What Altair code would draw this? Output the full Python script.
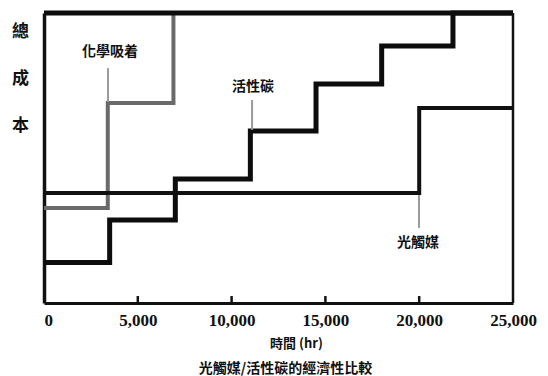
import altair as alt
import pandas as pd

# 活性碳 (activated carbon) step line
ac_x = [0, 3500, 7000, 11000, 14500, 18000, 21800, 25000]
ac_y = [14.0, 28.6, 42.8, 59.3, 75.5, 88.6, 100.0, 100.0]
# 化學吸着 (chemical adsorption) step line
chem_x = [0, 3400, 6900]
chem_y = [32.8, 69.0, 100.0]
# 光觸媒 (photocatalyst) step line
photo_x = [0, 20000, 25000]
photo_y = [37.9, 67.2, 67.2]

tick_values = [0, 5000, 10000, 15000, 20000, 25000]
inner_ticks = [5000, 10000, 15000, 20000]

labels = ["化學吸着", "活性碳", "光觸媒"]
label_x = [3520, 11140, 19940]
label_y = [86.6, 74.5, 20.7]
leader_x = [3410, 11090, 19990]
leader_y1 = [81.0, 70.0, 37.2]
leader_y2 = [69.3, 59.7, 25.9]

CJK = "Noto Sans CJK TC"
SERIF = "Liberation Serif"

xs = alt.Scale(domain=[0, 25000], nice=False, zero=False)
ys = alt.Scale(domain=[0, 100], nice=False, zero=False)

xaxis = alt.Axis(
    values=tick_values, format=",d", ticks=False, grid=False,
    domain=True, domainColor="#111111", domainWidth=3,
    labelFont=SERIF, labelFontWeight="bold", labelFontSize=17, labelColor="#111111",
    labelPadding=9,
    labelAlign={"condition": {"test": "datum.value == 0", "value": "left"}, "value": "center"},
    title="時間 (hr)", titleFont=CJK, titleFontWeight="bold", titleFontSize=13,
    titleColor="#111111", titleX=252, titleY=40, titleAlign="center", titleBaseline="middle",
)
yaxis = alt.Axis(
    ticks=False, labels=False, grid=False,
    domain=True, domainColor="#111111", domainWidth=3.5,
    title=["總", "成", "本"], titleFont=CJK, titleFontWeight="bold", titleFontSize=17,
    titleColor="#111111", titleAngle=0, titleX=-24, titleY=10, titleAlign="center",
    titleBaseline="top", titleLineHeight=47,
)

X = alt.X("x:Q", scale=xs, axis=xaxis)
Y = alt.Y("y:Q", scale=ys, axis=yaxis)

def step_df(xv, yv):
    return pd.DataFrame({"x": xv, "y": yv})

ac = alt.Chart(step_df(ac_x, ac_y)).mark_line(
    interpolate="step-after", color="#0d0d0d", strokeWidth=5, strokeJoin="miter", strokeCap="butt"
).encode(x=X, y=Y)
chem = alt.Chart(step_df(chem_x, chem_y)).mark_line(
    interpolate="step-after", color="#6a6a6a", strokeWidth=4, strokeJoin="miter"
).encode(x=X, y=Y)
photo = alt.Chart(step_df(photo_x, photo_y)).mark_line(
    interpolate="step-after", color="#111111", strokeWidth=4, strokeJoin="miter"
).encode(x=X, y=Y)

top = alt.Chart(pd.DataFrame({"x": [0], "x2": [25000], "y": [100]})).mark_rule(
    color="#0d0d0d", strokeWidth=5
).encode(x=X, x2="x2:Q", y=Y)
right = alt.Chart(pd.DataFrame({"x": [25000], "y": [0], "y2": [100]})).mark_rule(
    color="#111111", strokeWidth=2.5
).encode(x=X, y=Y, y2="y2:Q")

ticks = alt.Chart(pd.DataFrame({"x": inner_ticks, "y": [0] * 4, "y2": [2.4] * 4})).mark_rule(
    color="#111111", strokeWidth=2.5
).encode(x=X, y=Y, y2="y2:Q")

leaders = alt.Chart(pd.DataFrame({"x": leader_x, "y": leader_y1, "y2": leader_y2})).mark_rule(
    color="#9a9a9a", strokeWidth=2
).encode(x=X, y=Y, y2="y2:Q")

texts = alt.Chart(pd.DataFrame({"x": label_x, "y": label_y, "t": labels})).mark_text(
    font=CJK, fontWeight="bold", fontSize=14, color="#111111", align="center", baseline="middle"
).encode(x=X, y=Y, text="t:N")

chart = alt.layer(chem, photo, ac, top, right, ticks, leaders, texts).properties(
    width=469, height=290,
    autosize=alt.AutoSizeParams(type="none"),
    padding={"left": 44, "top": 13, "right": 35, "bottom": 73},
    background="white",
    title=alt.TitleParams(
        "光觸媒/活性碳的經濟性比較", orient="bottom", anchor="middle", font=CJK,
        fontWeight="bold", fontSize=14, color="#111111", offset=12, dx=7,
    ),
).configure_view(stroke=None)

chart.save("out.html", embed_options={"renderer": "svg", "actions": False})
